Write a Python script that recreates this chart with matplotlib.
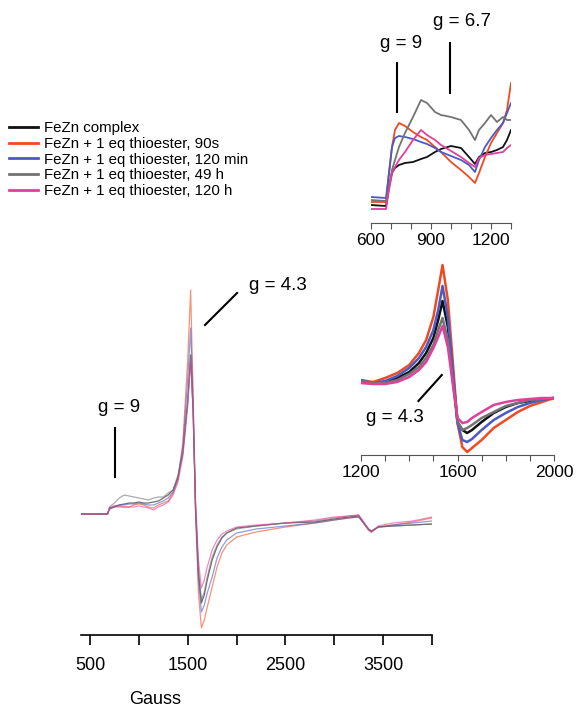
import numpy as np
import matplotlib.pyplot as plt
from matplotlib.ticker import FixedLocator

plt.rcParams['font.family'] = ['Liberation Sans', 'DejaVu Sans']

W, H = 578, 708

labels = ["FeZn complex",
          "FeZn + 1 eq thioester, 90s",
          "FeZn + 1 eq thioester, 120 min",
          "FeZn + 1 eq thioester, 49 h",
          "FeZn + 1 eq thioester, 120 h"]
colors = ['#111111', '#f04a22', '#4a5ac4', '#737373', '#e0409c']

# full spectrum
field = [410, 600, 680, 700, 750, 800, 850, 900, 950, 1000, 1050, 1100, 1150, 1200,
         1250, 1300, 1350, 1400, 1450, 1500, 1530, 1555, 1580, 1610, 1640, 1670, 1700,
         1750, 1800, 1850, 1900, 2000, 2200, 2500, 2800, 3000, 3150, 3250, 3300, 3350,
         3380, 3450, 3600, 3800, 4000]
full_black = [121, 121, 121, 126, 128, 130, 131, 132, 132, 133, 132, 132, 133, 134, 137,
              140, 145, 157, 182, 235, 280, 225, 128, 62, 32, 40, 55, 75, 88, 97, 102,
              107, 109, 112, 113, 116, 118, 119, 112, 106, 104, 108, 109, 110, 111]
full_red = [121, 121, 121, 127, 129, 129, 128, 128, 130, 131, 130, 128, 127, 130, 132,
            134, 142, 155, 192, 275, 345, 242, 122, 42, 7, 15, 28, 48, 68, 82, 90, 98,
            103, 108, 112, 115, 117, 118, 112, 105, 103, 108, 110, 113, 117]
full_blue = [121, 121, 121, 127, 129, 130, 130, 131, 131, 132, 131, 130, 130, 132, 134,
             137, 143, 158, 188, 255, 307, 235, 128, 55, 23, 30, 42, 58, 77, 88, 95, 102,
             106, 109, 112, 115, 117, 118, 112, 105, 103, 108, 110, 112, 114]
full_gray = [121, 121, 121, 128, 132, 137, 140, 139, 138, 137, 136, 135, 137, 138, 138,
             142, 145, 160, 183, 232, 278, 225, 128, 65, 35, 43, 58, 78, 90, 98, 102,
             106, 109, 112, 114, 117, 119, 120, 113, 106, 104, 108, 109, 110, 111]
full_pink = [121, 121, 121, 127, 128, 128, 128, 128, 128, 129, 128, 127, 125, 128, 130,
             133, 140, 153, 178, 228, 275, 225, 135, 75, 47, 55, 68, 85, 95, 101, 104,
             108, 110, 112, 115, 118, 119, 120, 113, 106, 103, 109, 112, 114, 118]

# low field inset (g = 9 / 6.7 region)
field_lo = [600, 675, 690, 705, 720, 740, 770, 810, 850, 880, 920, 950, 1000, 1050,
            1090, 1120, 1140, 1170, 1200, 1230, 1260, 1280, 1300]
lo_black = [18, 17, 36, 50, 55, 58, 60, 61, 64, 66, 71, 74, 77, 75, 66, 59, 66, 70, 71,
            73, 76, 83, 93]
lo_red = [21, 21, 50, 76, 93, 100, 97, 91, 86, 83, 76, 71, 61, 53, 46, 40, 50, 66, 80,
          90, 100, 113, 140]
lo_blue = [26, 25, 50, 76, 85, 87, 86, 84, 81, 79, 75, 71, 67, 63, 58, 51, 63, 76, 85,
           93, 100, 110, 120]
lo_gray = [23, 22, 36, 53, 63, 76, 90, 106, 123, 120, 111, 108, 106, 103, 93, 83, 93,
           100, 108, 101, 106, 103, 103]
lo_pink = [14, 14, 33, 50, 56, 63, 71, 83, 93, 88, 83, 78, 72, 66, 60, 56, 65, 68, 69,
           70, 71, 75, 78]

# g = 4.3 inset
field_mid = [1195, 1250, 1300, 1350, 1400, 1440, 1470, 1500, 1520, 1538, 1560, 1580,
             1600, 1620, 1640, 1660, 1700, 1750, 1800, 1850, 1900, 1950, 2000]
mid_black = [73, 72, 73, 77, 83, 92, 102, 117, 135, 154, 128, 82, 33, 25, 22, 25, 33,
             42, 48, 52, 54, 56, 57]
mid_red = [75, 73, 77, 82, 90, 102, 115, 138, 165, 190, 155, 95, 32, 8, 3, 7, 15, 27,
           35, 43, 49, 53, 57]
mid_blue = [75, 72, 74, 79, 87, 97, 108, 125, 145, 169, 138, 85, 32, 15, 13, 16, 25, 35,
            42, 48, 52, 55, 57]
mid_gray = [74, 72, 72, 75, 81, 88, 97, 110, 125, 137, 115, 75, 33, 25, 27, 30, 37, 43,
            49, 52, 55, 56, 57]
mid_pink = [72, 71, 71, 73, 78, 85, 93, 107, 118, 129, 108, 72, 37, 32, 33, 37, 43, 50,
            53, 55, 56, 57, 57]


def box(l, t, r, b):
    return [l / W, 1 - b / H, (r - l) / W, (b - t) / H]


def strip(ax):
    for s in ['top', 'right', 'left']:
        ax.spines[s].set_visible(False)
    ax.set_yticks([])
    ax.patch.set_alpha(0)


fig = plt.figure(figsize=(W / 100, H / 100), dpi=100)

# main spectrum
ax = fig.add_axes(box(81, 275, 432, 635))
strip(ax)
full = [full_black, full_red, full_blue, full_gray, full_pink]
for y, c in zip(full, colors):
    ax.plot(field, y, color=c, lw=0.9, alpha=0.6)
ax.set_xlim(408, 4000)
ax.set_ylim(0, 360)
ax.set_xticks([500, 1500, 2500, 3500])
ax.xaxis.set_minor_locator(FixedLocator([1000, 2000, 3000, 4000]))
ax.tick_params(axis='x', which='both', direction='out', length=7, width=1.2,
               labelsize=13, pad=9)
ax.spines['bottom'].set_linewidth(1.2)
ax.text(802, 228, 'g = 9', fontsize=13.5, ha='center', va='center')
ax.plot([756, 756], [158, 207], color='k', lw=1.5)
ax.text(2419, 350, 'g = 4.3', fontsize=13.5, ha='center', va='center')
ax.plot([1677, 2005], [310, 342], color='k', lw=1.5)

# low field inset
ax1 = fig.add_axes(box(371, 73, 511, 223))
strip(ax1)
for y, c in zip([lo_black, lo_red, lo_blue, lo_gray, lo_pink], colors):
    ax1.plot(field_lo, y, color=c, lw=1.3)
ax1.set_xlim(600, 1300)
ax1.set_ylim(0, 150)
ax1.set_xticks([600, 900, 1200])
ax1.xaxis.set_minor_locator(FixedLocator([700, 800, 1000, 1100, 1300]))
ax1.tick_params(axis='x', which='both', direction='out', length=4, width=0.8,
                labelsize=12.5, color='#555555')
ax1.spines['bottom'].set_color('#555555')
ax1.text(750, 180, 'g = 9', fontsize=13.5, ha='center', va='center', clip_on=False)
ax1.plot([730, 730], [111, 160], color='k', lw=1.5, clip_on=False)
ax1.text(1055, 201, 'g = 6.7', fontsize=13.5, ha='center', va='center', clip_on=False)
ax1.plot([995, 995], [130, 180], color='k', lw=1.5, clip_on=False)

# g = 4.3 inset
ax2 = fig.add_axes(box(361, 255, 554, 455))
strip(ax2)
for y, c in zip([mid_black, mid_red, mid_blue, mid_gray, mid_pink], colors):
    ax2.plot(field_mid, y, color=c, lw=1.8)
ax2.set_xlim(1200, 2000)
ax2.set_ylim(0, 200)
ax2.set_xticks([1200, 1600, 2000])
ax2.xaxis.set_minor_locator(FixedLocator([1300, 1400, 1500, 1700, 1800, 1900]))
ax2.tick_params(axis='x', which='both', direction='out', length=4, width=0.8,
                labelsize=12.5, color='#555555')
ax2.spines['bottom'].set_color('#555555')
ax2.text(1341, 38, 'g = 4.3', fontsize=13.5, ha='center', va='center')
ax2.plot([1438, 1535], [54, 80], color='k', lw=1.5)

fig.text(155 / W, 1 - 700 / H, 'Gauss', fontsize=13, ha='center', va='center')

handles = [plt.Line2D([], [], color=c, lw=2) for c in colors]
fig.legend(handles, labels, loc='upper left', bbox_to_anchor=(9 / W, 1 - 121 / H),
           frameon=False, fontsize=10.8, handlelength=1.9, handletextpad=0.4,
           labelspacing=0.12, borderaxespad=0, borderpad=0)

fig.savefig('out.png', dpi=100)
